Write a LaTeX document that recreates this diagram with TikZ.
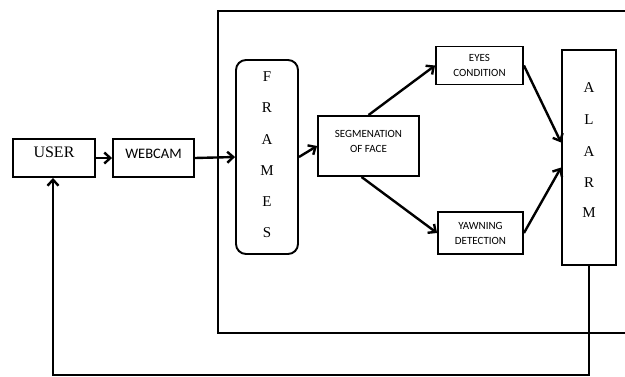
\documentclass[tikz,border=0pt]{standalone}
\usepackage{fontspec}
\setmainfont{Liberation Serif}
\newfontfamily\carlitofont{Carlito}
\usetikzlibrary{arrows.meta}
\begin{document}
\begin{tikzpicture}[x=1pt,y=-1pt,
  box/.style={draw,line width=1.9pt,inner sep=0pt},
  arr/.style={line width=2.4pt,-{Straight Barb[length=6pt,width=11pt,line width=2.4pt]}},
  small/.style={font=\carlitofont\fontsize{11}{15}\selectfont,align=center},
  letter/.style={font=\fontsize{15}{15}\selectfont}]
\useasboundingbox (0,0) rectangle (625,376);
% outer box
\draw[line width=1.9pt] (640,11) -- (218,11) -- (218,333) -- (640,333);
% nodes
\node[box,minimum width=82pt,minimum height=38pt] (user) at (54,158) {};
\node[font=\fontsize{16}{16}\selectfont] (usert) at (54,152) {USER};
\node[box,minimum width=81pt,minimum height=38pt] (webcam) at (153.5,158) {};
\node[font=\carlitofont\fontsize{14.5}{15}\selectfont] (webcamt) at (153.5,154) {WEBCAM};
\node[box,rounded corners=10pt,minimum width=62pt,minimum height=194pt] (frames) at (267,157) {};
\foreach \l/\yy [count=\i] in {F/77,R/108,A/140,M/171,E/202,S/233}
  \node[letter] (fr\i) at (267,\yy) {\l};
\node[box,minimum width=101pt,minimum height=60pt] (seg) at (368.5,146) {};
\node[small] (segt) at (368.5,141) {SEGMENATION\\OF FACE};
\node[box,minimum width=87pt,minimum height=38pt,small] (eyes) at (479.5,65.5) {EYES\\CONDITION};
\node[box,minimum width=85pt,minimum height=42pt,small] (yawn) at (480.5,233) {YAWNING\\DETECTION};
\node[box,minimum width=54pt,minimum height=215pt] (alarm) at (589,157.5) {};
\foreach \l/\yy [count=\i] in {A/88,L/120,A/152,R/183,M/213}
  \node[letter] (al\i) at (589,\yy) {\l};
% arrows
\draw[arr] (user.east) -- (webcam.west);
\draw[arr] (webcam.east) -- (frames.west);
\draw[arr] (frames.east) -- (seg.west);
\draw[arr] (seg.north) -- (eyes.west);
\draw[arr] ([xshift=-7pt]seg.south) -- (yawn.west);
\draw[arr] (eyes.east) -- ([yshift=15pt]alarm.west);
\draw[arr] (yawn.east) -- ([yshift=-10pt]alarm.west);
\coordinate (fb1) at (589,375);
\coordinate (fb2) at (53,375);
\draw[arr] (alarm.south) -- (fb1) -- (fb2) -- (user.south -| fb2);
\end{tikzpicture}
\end{document}
